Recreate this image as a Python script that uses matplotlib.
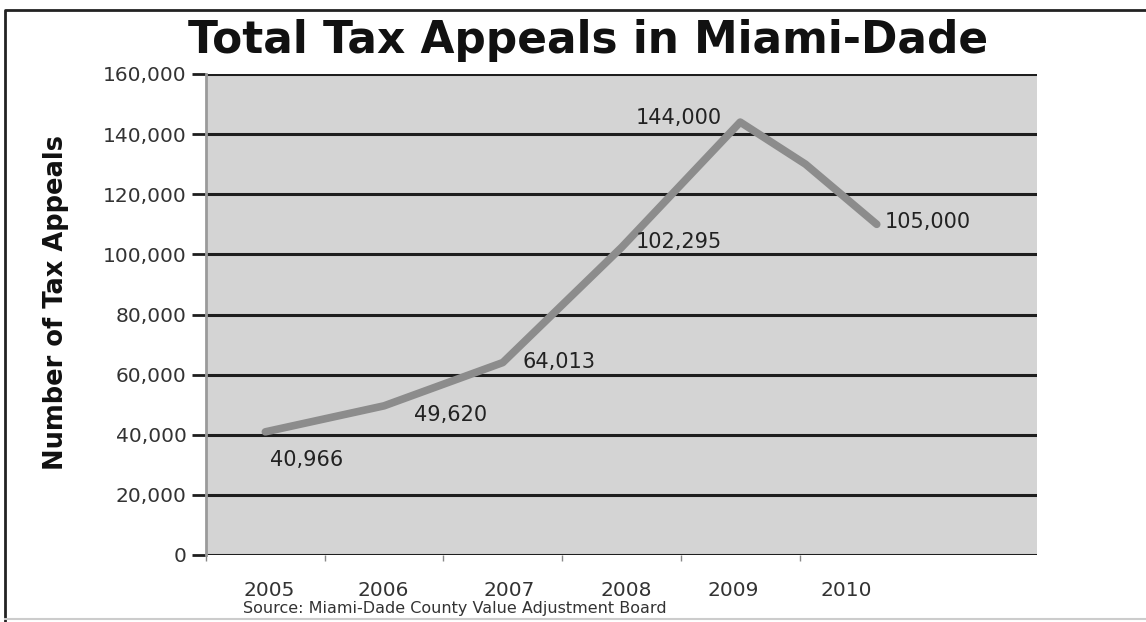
import matplotlib
matplotlib.use("Agg")
import matplotlib.pyplot as plt
from matplotlib.lines import Line2D

# Data
years = [2005, 2006, 2007, 2008, 2009, 2009.55, 2010.15]
appeals = [40966, 49620, 64013, 102295, 144000, 130000, 110000]
label_idx = [0, 1, 2, 3, 4, 6]
label_texts = ["40,966", "49,620", "64,013", "102,295", "144,000", "105,000"]
xtick_years = [2005, 2006, 2007, 2008, 2009, 2010]
yticks = list(range(0, 160001, 20000))

# layout offsets for the value labels (in data units)
label_dx = [0.04, 0.25, 0.17, 0.12, -0.88, 0.07]
label_dy = [-9400, -3000, 200, 1800, 1400, 800]
# slight horizontal shifts of the year labels as in the original
xtick_shift = [0.03, -0.01, 0.05, 0.04, -0.06, -0.11]

fig = plt.figure(figsize=(11.46, 6.22), dpi=100)
ax = fig.add_axes([206/1146, 1-555/622, (1037-206)/1146, (555-74)/622])
ax.set_facecolor("#d4d4d4")

ax.set_xlim(2004.5, 2011.5)
ax.set_ylim(0, 160000)

for y in yticks:
    ax.axhline(y, color="#1e1e1e", lw=2.2, zorder=1)

ax.plot(years, appeals, color="#8c8c8c", lw=5.5, solid_joinstyle="round",
        solid_capstyle="round", zorder=3)

for i, t, dx, dy in zip(label_idx, label_texts, label_dx, label_dy):
    ax.text(years[i] + dx, appeals[i] + dy, t, fontsize=15, color="#222222",
            ha="left", va="center", zorder=4)

ax.set_yticks(yticks)
ax.set_yticklabels([f"{v:,}" for v in yticks], fontsize=14.5, color="#333333")
ax.tick_params(axis="y", length=10, width=2, color="#1e1e1e", pad=4)

ax.set_xticks([y + s for y, s in zip(xtick_years, xtick_shift)])
ax.set_xticklabels([str(y) for y in xtick_years], fontsize=14.5, color="#333333")
ax.tick_params(axis="x", length=0, pad=19)
ax.set_xticks([2004.5 + k for k in range(6)], minor=True)
ax.tick_params(axis="x", which="minor", length=4, width=1, color="#888888")

for s in ["top", "right", "bottom"]:
    ax.spines[s].set_visible(False)
ax.spines["left"].set_color("#9a9a9a")
ax.spines["left"].set_linewidth(2)

ax.set_ylabel("Number of Tax Appeals", fontsize=18.5, fontweight="bold",
              color="#111111")
ax.yaxis.set_label_coords(-0.165, 0.525)

fig.text(588/1146, 1-40/622, "Total Tax Appeals in Miami-Dade", fontsize=31.6,
         fontweight="bold", color="#111111", ha="center", va="center")
fig.text(243/1146, 1-609/622, "Source: Miami-Dade County Value Adjustment Board",
         fontsize=11.5, color="#333333", ha="left", va="center")

# outer frame
fig.lines.append(Line2D([5/1146, 5/1146, 1.0], [0, 1-10/622, 1-10/622],
                        transform=fig.transFigure, color="#222222", lw=2))
fig.lines.append(Line2D([5/1146, 1.0], [1-619/622, 1-619/622],
                        transform=fig.transFigure, color="#cccccc", lw=1.5))

fig.savefig("out.png", dpi=100)
